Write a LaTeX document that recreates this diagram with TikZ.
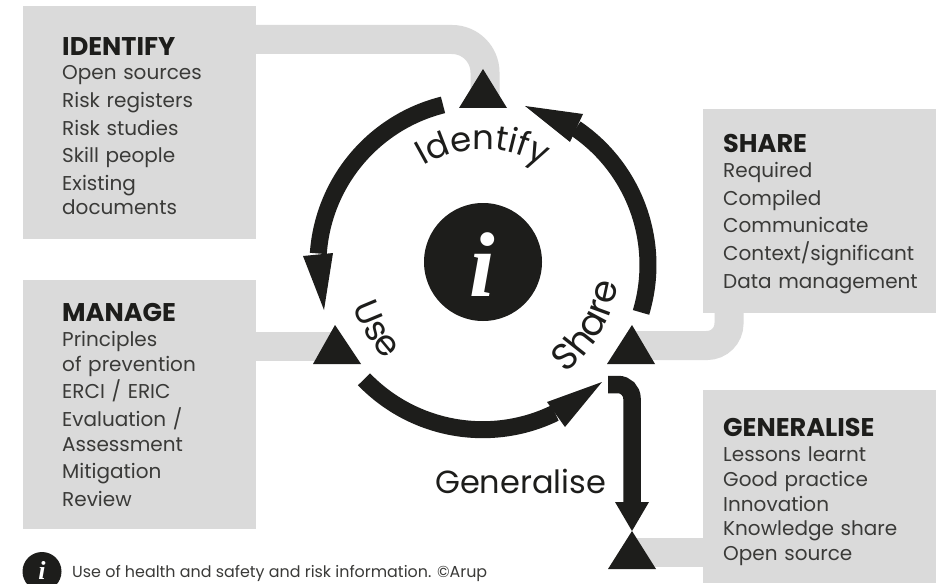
\documentclass[tikz,border=0pt]{standalone}
\usepackage{fontspec}
\setmainfont{Poppins}
\newfontfamily\serifi{Liberation Serif}
\usetikzlibrary{decorations.text,calc}
\definecolor{ink}{HTML}{1D1D1B}
\definecolor{band}{HTML}{DADADA}
\definecolor{body}{HTML}{3A3A38}
\tikzset{
 x=1pt,y=-1pt,
 graybox/.style={fill=band,draw=none},
 boxtext/.style={anchor=north west,inner sep=0pt,align=left,text=body,font=\fontsize{20}{24.7}\selectfont,text width=210pt},
 bandline/.style={draw=band,line width=29pt},
 arcline/.style={draw=ink,line width=17pt},
 head/.style={fill=ink,draw=none},
 tri/.style={fill=ink,draw=none},
}
\newcommand{\hd}[1]{{\fontsize{25.6}{24.7}\selectfont\bfseries\color{ink} #1}\\}
\newcommand{\nl}{\\[2.9pt]}
\begin{document}
\begin{tikzpicture}
\useasboundingbox (0,0) rectangle (936,583);
\fill[white] (0,0) rectangle (936,583);
% bands
\coordinate (cI) at (250,39.5);
\coordinate (tI) at (485,100);
\draw[bandline,rounded corners=33pt] (cI) -- (485,39.5) -- (tI);
\draw[bandline] (250,346) -- (340,346);
\draw[bandline,rounded corners=22pt] (632,345.5) -- (729,345.5) -- (729,305);
\draw[bandline] (632,552) -- (710,552);
% boxes
\fill[graybox] (23,6) rectangle (256,239);
\fill[graybox] (23,280) rectangle (256,529);
\fill[graybox] (703,109) rectangle (936,313);
\fill[graybox] (703,390) rectangle (936,583);
% texts
\node[boxtext] (identify) at (62,37) {\hd{IDENTIFY}Open sources\nl Risk registers\nl Risk studies\nl Skill people\nl Existing\\documents};
\node[boxtext] (manage) at (62,303.5) {\hd{MANAGE}Principles\\of prevention\nl ERCI / ERIC\nl Evaluation /\\Assessment\nl Mitigation\nl Review};
\node[boxtext] (share) at (723,134.5) {\hd{SHARE}Required\nl Compiled\nl Communicate\nl Context/significant\nl Data management};
\node[boxtext] (generalise) at (723,418.5) {\hd{GENERALISE}Lessons learnt\\Good practice\\Innovation\\Knowledge share\\Open source};
% triangles
\fill[tri] (483,69) -- (507,108) -- (459,108) -- cycle;
\fill[tri] (335,325) -- (361,364) -- (313,364) -- cycle;
\fill[tri] (632,325) -- (655,364) -- (607,364) -- cycle;
\fill[tri] (632,531) -- (656,569) -- (608,569) -- cycle;
% arcs; centre (483,265), r=165; y axis flipped so angles are negated
\coordinate (C) at (483,265);
\draw[arcline] ($(C)+(-40,-160.1)$) arc[start angle=-104,end angle=-176,radius=165];
\fill[head] (303,256) -- (333,253) -- (324,310) -- cycle;
\draw[arcline] ($(C)+(-119,114.3)$) arc[start angle=-224,end angle=-296,radius=165];
\fill[head] (547,402) -- (565,427) -- (602,382) -- cycle;
\draw[arcline] ($(C)+(158,47.4)$) arc[start angle=-(-16.7),end angle=-55.8,radius=165];
\fill[head] (583,114) -- (570,142) -- (525,106) -- cycle;
% generalise arrow
\draw[draw=ink,line width=17.5pt,rounded corners=14pt] (608,384.5) -- (632,384.5) -- (632,505);
\fill[head] (615,502) -- (649,502) -- (632,531) -- cycle;
% info
\fill[ink] (483,262) circle[radius=59];
\node[text=white,font=\serifi\fontsize{92}{92}\selectfont\bfseries\itshape] (info) at (482,265) {i};
% circular labels
\path[postaction={decorate,decoration={text along path,text align=center,text={|\fontsize{34}{34}\selectfont\color{ink}|Identify}}}]
 ($(C)+(-95,-66)$) arc[start angle=-145,end angle=-35,radius=116];
\path[postaction={decorate,decoration={text along path,text align=center,text={|\fontsize{35}{35}\selectfont\color{ink}|Use}}}]
 ($(C)+(-136,0)$) arc[start angle=180,end angle=118,radius=136];
\path[postaction={decorate,decoration={text along path,text align=center,text={|\fontsize{37}{37}\selectfont\color{ink}|Share}}}]
 ($(C)+(61.7,121.2)$) arc[start angle=63,end angle=-3,radius=136];
\node[anchor=base west,inner sep=0pt,text=ink,font=\fontsize{32}{32}\selectfont] (genlab) at (435,493) {Generalise};
% legend
\fill[ink] (42,571.5) circle[radius=19.5];
\node[text=white,font=\serifi\fontsize{26}{26}\selectfont\bfseries\itshape,inner sep=0pt] (infosmall) at (42,570) {i};
\node[anchor=base west,inner sep=0pt,text=body,font=\fontsize{15.9}{16}\selectfont] (legend) at (72,577) {Use of health and safety and risk information. ©Arup};
\end{tikzpicture}
\end{document}
